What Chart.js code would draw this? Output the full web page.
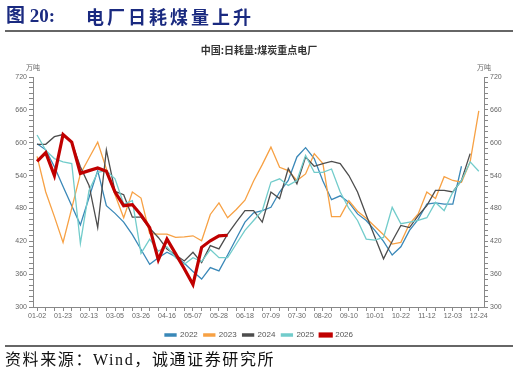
<!DOCTYPE html>
<html><head><meta charset="utf-8">
<script src="https://cdn.jsdelivr.net/npm/chart.js@4.4.0/dist/chart.umd.min.js"></script>
<style>
html,body{margin:0;padding:0;background:#fff;}
#wrap{position:relative;width:518px;height:374px;overflow:hidden;background:#fff;}
#c{position:absolute;left:0;top:0;}
.h{position:absolute;top:5px;font:bold 19px "Liberation Serif","Noto Sans CJK SC";color:#1a2a80;white-space:nowrap;line-height:22px;}
.rule{position:absolute;left:5px;width:508px;height:2px;background:#666;}
#src{position:absolute;left:5px;top:351px;font:16px "Liberation Serif","Noto Sans CJK SC";letter-spacing:1.6px;color:#111;white-space:nowrap;line-height:18px;}
</style></head><body>
<div id="wrap">
<canvas id="c" width="518" height="374"></canvas>
<div class="h" style="left:6px">图 20:</div>
<div class="h" style="left:86px;font-size:18px;letter-spacing:3px;font-family:'Noto Sans CJK SC'">电厂日耗煤量上升</div>
<div class="rule" style="top:30px"></div>
<div class="rule" style="top:345px"></div>
<div id="src">资料来源：Wind，诚通证券研究所</div>
</div>
<script>
const weekLabels = ["01-02","01-09","01-16","01-23","01-30","02-06","02-13","02-20","02-27","03-05","03-12","03-19","03-26","04-02","04-09","04-16","04-23","04-30","05-07","05-14","05-21","05-28","06-04","06-11","06-18","06-25","07-02","07-09","07-16","07-23","07-30","08-06","08-13","08-20","08-27","09-03","09-10","09-17","09-24","10-01","10-08","10-15","10-22","10-29","11-05","11-12","11-19","11-26","12-03","12-10","12-17","12-24"];
const seriesNames = ["2022","2023","2024","2025","2026"];
const s2022 = [598,587,556,520,485,450,500,549,485,471,455,432,405,378,390,400,392,380,365,351,372,366,395,425,455,472,476,482,510,531,574,591,571,530,496,503,491,470,458,440,420,395,410,440,460,488,490,488,488,557,null,null];
const s2023 = [575,510,465,418,480,543,572,601,552,505,463,510,499,434,433,433,427,428,430,421,469,490,463,478,495,530,560,592,555,549,531,543,580,562,465,465,494,475,462,447,432,415,418,452,470,510,498,538,531,528,565,658];
const s2024 = [597,597,611,615,601,556,522,445,587,511,505,464,464,444,427,406,395,384,400,381,412,406,433,455,476,476,455,510,498,553,525,574,557,562,566,562,540,510,468,428,388,420,449,445,467,485,513,513,510,531,580,null];
const s2025 = [614,586,571,565,562,416,513,546,549,534,488,494,398,424,402,410,390,378,390,383,405,390,390,415,440,458,476,528,534,522,531,577,546,546,552,510,480,458,424,422,427,482,452,455,458,463,491,476,510,531,565,548];
const s2026 = [566,582,540,615,601,544,549,554,548,510,485,487,468,445,386,424,397,370,341,409,421,430,431,null,null,null,null,null,null,null,null,null,null,null,null,null,null,null,null,null,null,null,null,null,null,null,null,null,null,null,null,null];
const seriesValues = [s2022,s2023,s2024,s2025,s2026];
const seriesColors = ["#3a88b8","#f7a144","#4d4d4d","#72cccb","#c00000"];
const seriesWidths = [1.3,1.3,1.3,1.3,3.2];
const yTicksMin = 300, yTicksMax = 720, yLabelStep = 60, yMinorStep = 10;

const unitPlugin = {
  id:'unit',
  afterDraw(c){
    const ctx = c.ctx; ctx.save();
    ctx.font = '7px "Noto Sans CJK SC"'; ctx.fillStyle = '#666';
    ctx.textAlign = 'center'; ctx.textBaseline = 'middle';
    ctx.fillText('万吨', c.scales.y.right, c.scales.y.top - 10);
    ctx.fillText('万吨', c.scales.y2.left, c.scales.y2.top - 10);
    ctx.restore();
  }
};

const tickFont = {size:7, family:'Liberation Sans'};
function yAxis(pos, w){
  return {
    type:'linear', position:pos, min:yTicksMin, max:yTicksMax,
    grid:{display:true, drawOnChartArea:false, drawTicks:true, tickLength:4, color:'#888'},
    border:{color:'#888'},
    ticks:{stepSize:yMinorStep, autoSkip:false, padding:2, color:'#666', font:tickFont,
      callback:v => (v % yLabelStep === 0 ? String(v) : '')},
    afterFit:s => { s.width = w; }
  };
}

new Chart(document.getElementById('c'), {
  type:'line',
  data:{
    datasets: seriesNames.map((n,k) => ({
      label:n,
      data: seriesValues[k].map((v,i) => ({x:i, y:v})).filter(p => p.y !== null),
      borderColor: seriesColors[k], backgroundColor: seriesColors[k],
      borderWidth: seriesWidths[k], pointRadius:0, tension:0, fill:false,
      order: seriesNames.length - 1 - k
    }))
  },
  options:{
    responsive:false, animation:false, events:[],
    layout:{padding:{top:40, bottom:25, left:0, right:0}},
    plugins:{
      title:{display:true, text:'中国:日耗量:煤炭重点电厂', color:'#333',
        font:{family:'Noto Sans CJK SC', size:10, weight:'bold'}, padding:{top:4, bottom:21}},
      legend:{position:'bottom',
        labels:{boxWidth:11, boxHeight:2, padding:6, color:'#555', font:{size:8, family:'Liberation Sans'},
          sort:(a,b) => a.datasetIndex - b.datasetIndex}},
      tooltip:{enabled:false}
    },
    scales:{
      x:{type:'linear', min:-0.47, max:51.6,
        grid:{display:true, drawOnChartArea:false, drawTicks:true, tickLength:4, color:'#888'},
        border:{color:'#888'},
        ticks:{stepSize:1, autoSkip:false, maxRotation:0, minRotation:0, includeBounds:false, padding:1,
          color:'#666', font:tickFont,
          callback:v => Number.isInteger(v) ? (v % 3 === 0 ? weekLabels[v] : '') : null},
        afterFit:s => { s.height = 18; }},
      y: yAxis('left', 33),
      y2: yAxis('right', 34)
    }
  },
  plugins:[unitPlugin]
});
</script>
</body></html>
